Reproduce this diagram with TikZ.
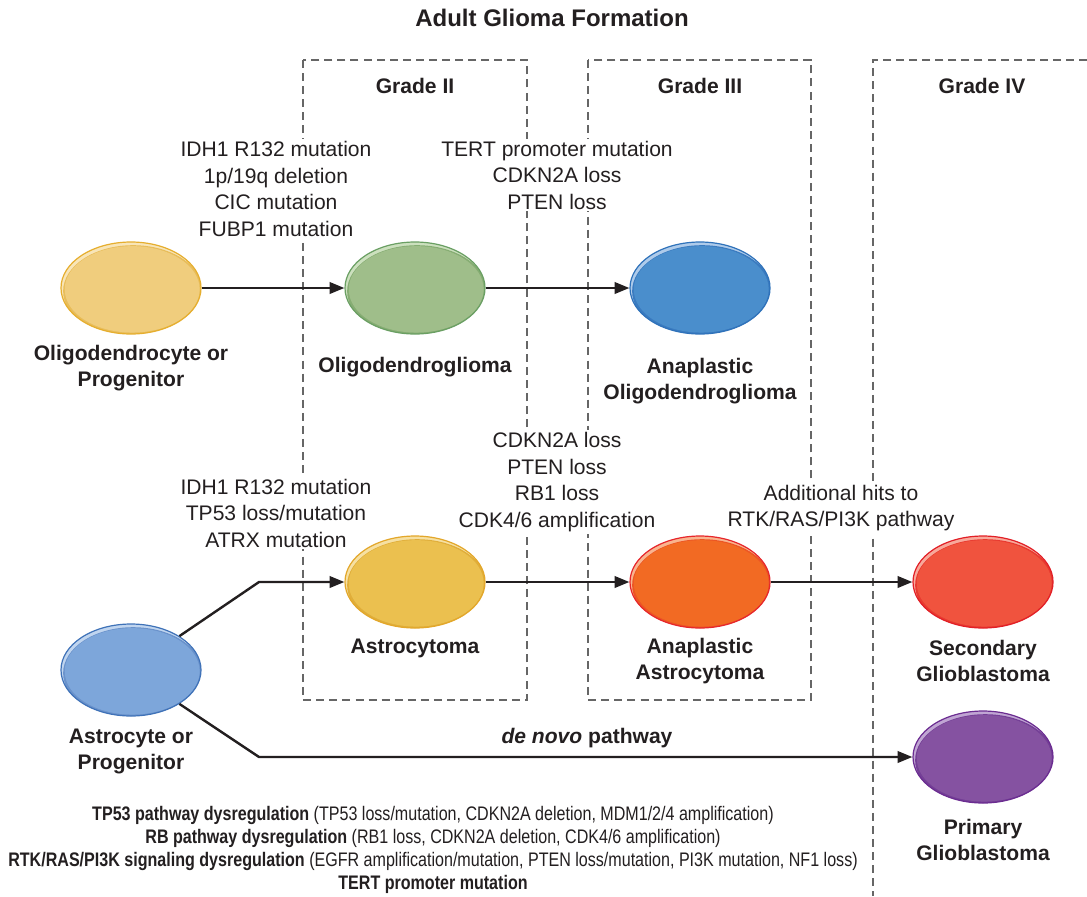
\documentclass[tikz,border=0pt]{standalone}
\usepackage{fontspec}
\setmainfont{Liberation Sans}
\newfontfamily\narrowfont[FakeStretch=0.82]{Liberation Sans}
\usetikzlibrary{arrows.meta,calc,shapes.geometric}
\definecolor{txt}{HTML}{231F20}
\definecolor{dashgray}{HTML}{666666}
% cell colours: main, border, light, dark
\definecolor{ocM}{HTML}{F0CD7D}\definecolor{ocB}{HTML}{E6AE2E}\definecolor{ocL}{HTML}{F8E5B8}\definecolor{ocD}{HTML}{E8BD5A}
\definecolor{ogM}{HTML}{9FBE8A}\definecolor{ogB}{HTML}{6A9F63}\definecolor{ogL}{HTML}{CCE0BE}\definecolor{ogD}{HTML}{86AD73}
\definecolor{aoM}{HTML}{4A8ECC}\definecolor{aoB}{HTML}{2F72BA}\definecolor{aoL}{HTML}{AECBEA}\definecolor{aoD}{HTML}{3A7BC0}
\definecolor{acM}{HTML}{EBC04F}\definecolor{acB}{HTML}{E3A72A}\definecolor{acL}{HTML}{F6E0A2}\definecolor{acD}{HTML}{E0AE3A}
\definecolor{aaM}{HTML}{F26A23}\definecolor{aaB}{HTML}{E7262B}\definecolor{aaL}{HTML}{F9B48F}\definecolor{aaD}{HTML}{EC5524}
\definecolor{sgM}{HTML}{F0533E}\definecolor{sgB}{HTML}{E21F26}\definecolor{sgL}{HTML}{F8A99B}\definecolor{sgD}{HTML}{E83A30}
\definecolor{asM}{HTML}{7DA6DA}\definecolor{asB}{HTML}{3F72B8}\definecolor{asL}{HTML}{C0D5EF}\definecolor{asD}{HTML}{6A92CB}
\definecolor{pgM}{HTML}{8552A1}\definecolor{pgB}{HTML}{6B2C91}\definecolor{pgL}{HTML}{C0A5D3}\definecolor{pgD}{HTML}{743F96}
\tikzset{
  gradeline/.style={draw=dashgray, line width=1.6pt, dash pattern=on 6pt off 3.8pt},
  mut/.style={align=center, fill=white, inner sep=1.5pt, text=txt, font=\fontsize{15.8}{19.9}\selectfont},
  lbl/.style={align=center, text=txt, font=\bfseries\fontsize{15.8}{19.5}\selectfont},
  ttl/.style={text=txt, font=\bfseries\fontsize{18}{22}\selectfont},
  foot/.style={align=center, text=txt, font=\narrowfont\fontsize{14.7}{17.25}\selectfont},
  arr/.style={draw=txt, line width=1.8pt, -{Triangle[length=11pt,width=8.5pt]}},
  cell/.style n args={4}{ellipse, minimum width=105pt, minimum height=69pt, inner sep=0pt,
    draw=#2, line width=0.9pt,
    path picture={
      \fill[#3] (path picture bounding box.south west) rectangle (path picture bounding box.north east);
      \fill[#4] ($(path picture bounding box.center)+(1.6pt,-2.4pt)$) ellipse [x radius=52.5pt, y radius=34.5pt];
      \fill[#1] ($(path picture bounding box.center)+(0.9pt,-1pt)$) ellipse [x radius=50.6pt, y radius=32.4pt];
    }}
}
\begin{document}
\begin{tikzpicture}[x=0.75pt,y=-0.75pt]
\useasboundingbox[fill=white] (0,0) rectangle (1087,896);

% grade regions
\draw[gradeline] (303,60) rectangle (527,700);
\draw[gradeline] (588,60) rectangle (811,700);
\draw[gradeline] (1087,60) -- (873,60) -- (873,896);

% titles
\node[ttl] (title) at (552,18) {Adult Glioma Formation};
\node[lbl] (g2) at (415,86) {Grade II};
\node[lbl] (g3) at (700,86) {Grade III};
\node[lbl] (g4) at (982,86) {Grade IV};

% mutation texts
\node[mut] (m1) at (276,189) {IDH1 R132 mutation\\1p/19q deletion\\CIC mutation\\FUBP1 mutation};
\node[mut] (m2) at (557,175) {TERT promoter mutation\\CDKN2A loss\\PTEN loss};
\node[mut] (m3) at (557,482) {CDKN2A loss\\PTEN loss\\RB1 loss\\CDK4/6 amplification};
\node[mut] (m4) at (276,513) {IDH1 R132 mutation\\TP53 loss/mutation\\ATRX mutation};
\node[mut] (m5) at (841,508) {Additional hits to\\RTK/RAS/PI3K pathway};
\node[lbl] (dn) at (587,738) {\textit{de novo} pathway};

% cells
\node[cell={ocM}{ocB}{ocL}{ocD}] (oc) at (131,288) {};
\node[cell={ogM}{ogB}{ogL}{ogD}] (og) at (415,288) {};
\node[cell={aoM}{aoB}{aoL}{aoD}] (ao) at (700,288) {};
\node[cell={acM}{acB}{acL}{acD}] (ac) at (415,582) {};
\node[cell={aaM}{aaB}{aaL}{aaD}] (aa) at (700,582) {};
\node[cell={sgM}{sgB}{sgL}{sgD}] (sg) at (983,582) {};
\node[cell={asM}{asB}{asL}{asD}] (as) at (131,670) {};
\node[cell={pgM}{pgB}{pgL}{pgD}] (pg) at (983,757) {};

% cell labels
\node[lbl] (ocl) at (131,368) {Oligodendrocyte or\\Progenitor};
\node[lbl] (ogl) at (415,367) {Oligodendroglioma};
\node[lbl] (aol) at (700,381) {Anaplastic\\Oligodendroglioma};
\node[lbl] (acl) at (415,648) {Astrocytoma};
\node[lbl] (aal) at (700,661) {Anaplastic\\Astrocytoma};
\node[lbl] (sgl) at (983,661) {Secondary\\Glioblastoma};
\node[lbl] (asl) at (131,751) {Astrocyte or\\Progenitor};
\node[lbl] (pgl) at (983,840) {Primary\\Glioblastoma};

% connectors
\coordinate (k1) at (259,582);
\coordinate (k2) at (259,757);
\draw[arr] (oc) -- (og);
\draw[arr] (og) -- (ao);
\draw[arr] (as.35) -- (k1) -- (ac);
\draw[arr] (ac) -- (aa);
\draw[arr] (aa) -- (sg);
\draw[arr] (as.-35) -- (k2) -- (pg);

% footnote
\node[foot] (fn) at (433,850) {\textbf{TP53 pathway dysregulation} (TP53 loss/mutation, CDKN2A deletion, MDM1/2/4 amplification)\\
\textbf{RB pathway dysregulation} (RB1 loss, CDKN2A deletion, CDK4/6 amplification)\\
\textbf{RTK/RAS/PI3K signaling dysregulation} (EGFR amplification/mutation, PTEN loss/mutation, PI3K mutation, NF1 loss)\\
\textbf{TERT promoter mutation}};
\end{tikzpicture}
\end{document}
